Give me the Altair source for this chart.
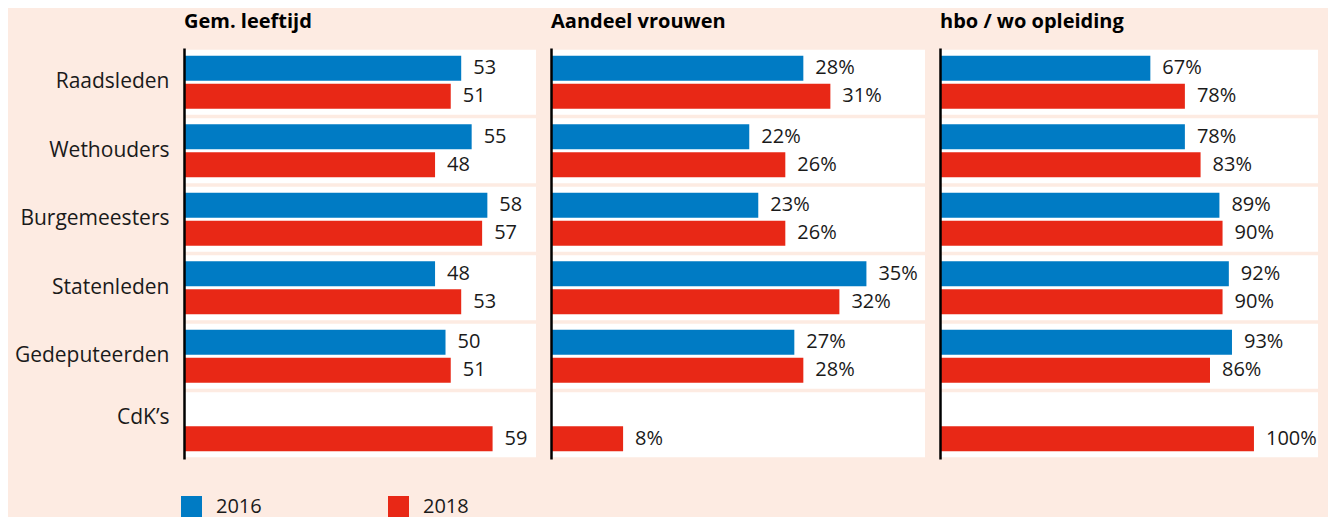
import altair as alt
import pandas as pd

CATEGORIES = ["Raadsleden", "Wethouders", "Burgemeesters", "Statenleden", "Gedeputeerden", "CdK\u2019s"]
YEARS = ["2016", "2018"]
COLORS = ["#007bc4", "#e82816"]

AGE_2016 = [53, 55, 58, 48, 50, None]
AGE_2018 = [51, 48, 57, 53, 51, 59]
WOMEN_2016 = [28, 22, 23, 35, 27, None]
WOMEN_2018 = [31, 26, 26, 32, 28, 8]
EDU_2016 = [67, 78, 89, 92, 93, None]
EDU_2018 = [78, 83, 90, 90, 86, 100]

TITLES = ["Gem. leeftijd", "Aandeel vrouwen", "hbo / wo opleiding"]

FONT = "Open Sans"
TEXT_COLOR = "#1a1a1a"
BG = "#fdebe2"


def panel(title, v16, v18, xmax, width, pct, first):
    rows = []
    for c, a, b in zip(CATEGORIES, v16, v18):
        for yr, v in zip(YEARS, (a, b)):
            if v is None:
                continue
            rows.append({"cat": c, "year": yr, "value": v,
                         "label": f"{v}%" if pct else f"{v}"})
    df = pd.DataFrame(rows)
    bg = pd.DataFrame({"cat": CATEGORIES, "lo": [0] * len(CATEGORIES), "hi": [xmax] * len(CATEGORIES)})

    axis = alt.Axis(
        title=None, ticks=False, labels=first, domain=True,
        domainColor="#000000", domainWidth=2.5,
        labelFont=FONT, labelFontSize=21, labelColor=TEXT_COLOR,
        labelPadding=15, labelLimit=300,
        labelOffset={"condition": {"test": "datum.value === 'CdK\u2019s'", "value": -7}, "value": 0},
    )
    yenc = alt.Y("cat:N", scale=alt.Scale(domain=CATEGORIES, paddingInner=0.05, paddingOuter=0.025), axis=axis)
    xenc = alt.X("value:Q", scale=alt.Scale(domain=[0, xmax], nice=False, zero=True), axis=None)
    yoff = alt.YOffset("year:N", scale=alt.Scale(domain=YEARS, paddingInner=0.1, paddingOuter=0.22))

    if first:
        legend = alt.Legend(
            title=None, orient="none", legendX=-3, legendY=448,
            direction="horizontal", symbolType="square", symbolSize=441,
            symbolStrokeWidth=0, labelFont=FONT, labelFontSize=20,
            labelColor=TEXT_COLOR, labelOffset=14, columnPadding=126,
            padding=0)
    else:
        legend = None

    band = alt.Chart(bg).mark_rect(color="white").encode(
        y=yenc,
        x=alt.X("lo:Q", scale=alt.Scale(domain=[0, xmax], nice=False, zero=True), axis=None),
        x2="hi:Q",
    )
    bars = alt.Chart(df).mark_bar().encode(
        y=yenc, x=xenc, yOffset=yoff,
        color=alt.Color("year:N", scale=alt.Scale(domain=YEARS, range=COLORS), legend=legend),
    )
    labels = alt.Chart(df).mark_text(
        align="left", baseline="middle", dx=12, font=FONT, fontSize=20, color=TEXT_COLOR
    ).encode(y=yenc, x=xenc, yOffset=yoff, text="label:N")

    return alt.layer(band, bars, labels).properties(
        width=width, height=411,
        title=alt.TitleParams(title, anchor="start", frame="group", font=FONT, fontSize=20,
                              fontWeight="bold", color="#000000",
                              baseline="alphabetic", offset=0),
    )


p1 = panel(TITLES[0], AGE_2016, AGE_2018, 67.3, 352, False, True)
p2 = panel(TITLES[1], WOMEN_2016, WOMEN_2018, 41.5, 374, True, False)
p3 = panel(TITLES[2], EDU_2016, EDU_2018, 120.4, 378, True, False)

chart = alt.hconcat(p1, p2, p3, spacing=15).resolve_scale(color="independent").properties(
    background=BG,
    padding={"left": 6, "top": 4, "right": 10, "bottom": 0},
).configure_view(stroke=None)

chart.save("out.html", embed_options={"renderer": "svg", "actions": False})
